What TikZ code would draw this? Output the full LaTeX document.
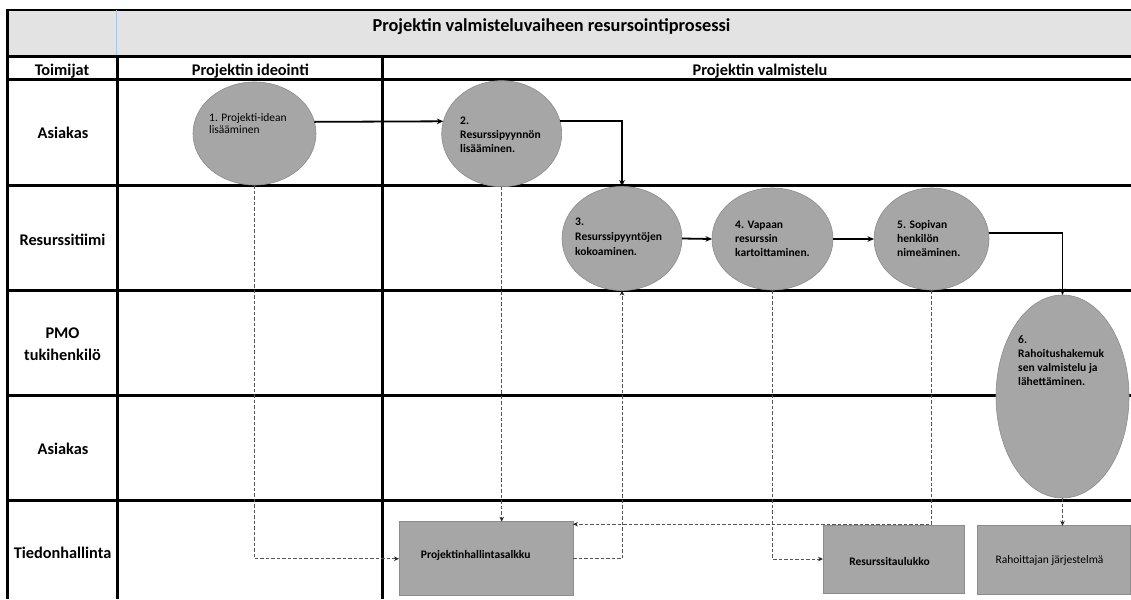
\documentclass[tikz,border=0pt]{standalone}
\usepackage{fontspec}
\setmainfont{Carlito}
\usetikzlibrary{arrows.meta,shapes.geometric,calc}

\definecolor{titlegrey}{HTML}{E3E3E3}
\definecolor{shapefill}{HTML}{A6A6A6}
\definecolor{shapeedge}{HTML}{8C8C8C}
\definecolor{dashgrey}{HTML}{555555}
\definecolor{cellblue}{HTML}{A9C4E8}

% left-aligned multi-line text whose baseline is that of its first line
\newcommand{\steplines}[1]{\begin{tabular}[t]{@{}l@{}}#1\end{tabular}}

\begin{document}
\begin{tikzpicture}[x=1pt,y=-1pt,
  gridline/.style={line width=3pt, black},
  stepnode/.style={ellipse, fill=shapefill, draw=shapeedge, line width=0.6pt,
    inner sep=0pt, outer sep=0pt},
  store/.style={rectangle, fill=shapefill, draw=shapeedge, line width=0.8pt,
    inner sep=0pt, outer sep=0pt},
  titletext/.style={font=\fontsize{18.3}{22}\selectfont\bfseries, inner sep=0pt, anchor=base},
  head/.style={font=\fontsize{16.3}{22}\selectfont\bfseries, inner sep=0pt, anchor=base},
  steptext/.style={font=\fontsize{11.5}{14}\selectfont\bfseries,
    anchor=base west, inner sep=0pt},
  steptextlight/.style={font=\fontsize{11.5}{12.5}\selectfont,
    anchor=base west, inner sep=0pt},
  storetext/.style={font=\fontsize{11.5}{14}\selectfont\bfseries, inner sep=0pt, anchor=base},
  storetextlight/.style={font=\fontsize{11.5}{14}\selectfont, inner sep=0pt, anchor=base},
  flow/.style={line width=1.8pt, -{Stealth[length=6.5pt,width=5.5pt]}},
  info/.style={dashgrey, line width=1pt, dash pattern=on 3.5pt off 2pt,
    -{Stealth[length=5pt,width=4.5pt,color=black!85]}}
]
\useasboundingbox (0,0) rectangle (1131,599);

% ---- table: title row, header row and swimlanes
\fill[titlegrey] (7,10) rectangle (1131,57);
\draw[line width=1.6pt] (7,10) -- (1131,10);
\draw[cellblue, line width=0.6pt] (116.7,10) -- (116.7,57);
\draw[gridline] (7,57) -- (1131,57);
\foreach \y in {80,185,290.5,395.5,500}
  \draw[gridline] (7,\y) -- (1131,\y);
\draw[gridline] (7,9.5) -- (7,599);
\foreach \x in {117,382}
  \draw[gridline] (\x,57) -- (\x,599);

\node[titletext] (title) at (551.5,32) {Projektin valmisteluvaiheen resursointiprosessi};
\node[head] (hToim) at (62,76) {Toimijat};
\node[head] (hIde) at (250.4,76) {Projektin ideointi};
\node[head] (hVal) at (760,76) {Projektin valmistelu};

\node[head] (lAsiakas1) at (63,138) {Asiakas};
\node[head] (lResurssi) at (62.5,245) {Resurssitiimi};
\node[head, align=center, anchor=north] (lPmo) at (62.5,327.5) {PMO\\tukihenkilö};
\node[head] (lAsiakas2) at (63,454) {Asiakas};
\node[head] (lTieto) at (62.5,558) {Tiedonhallinta};

% ---- process steps
\node[stepnode, minimum width=123pt, minimum height=103pt] (e1) at (254.5,133.5) {};
\node[stepnode, minimum width=120pt, minimum height=106pt] (e2) at (501.7,133.7) {};
\node[stepnode, minimum width=120pt, minimum height=104pt] (e3) at (622,238.5) {};
\node[stepnode, minimum width=121pt, minimum height=102pt] (e4) at (772.5,239) {};
\node[stepnode, minimum width=115pt, minimum height=102pt] (e5) at (931.5,239) {};
\node[stepnode, minimum width=133pt, minimum height=203pt] (e6) at (1062.5,396.5) {};

\node[steptextlight] (t1) at (209,121.2) {\steplines{1. Projekti-idean\\lisääminen}};
\node[steptext] (t2) at (460,124.7) {\steplines{2.\\Resurssipyynnön\\lisääminen.}};
\node[steptext, font=\fontsize{11.5}{15}\selectfont\bfseries] (t3) at (575,225.7) {\steplines{3.\\Resurssipyyntöjen\\kokoaminen.}};
\node[steptext] (t4) at (735,228.7) {\steplines{4. Vapaan\\resurssin\\kartoittaminen.}};
\node[steptext] (t5) at (897,228.7) {\steplines{5. Sopivan\\henkilön\\nimeäminen.}};
\node[steptext] (t6) at (1018,343) {\steplines{6.\\Rahoitushakemuk\\sen valmistelu ja\\lähettäminen.}};

% ---- information stores
\node[store, minimum width=174pt, minimum height=74pt] (b1) at (486,558.7) {};
\node[store, minimum width=141pt, minimum height=68pt] (b2) at (893.5,559) {};
\node[store, minimum width=153pt, minimum height=69pt] (b3) at (1053.5,560.3) {};

\node[storetext] (s1) at (475.7,558.5) {Projektinhallintasalkku};
\node[storetext] (s2) at (889.5,565) {Resurssitaulukko};
\node[storetextlight] (s3) at (1049.5,563.5) {Rahoittajan järjestelmä};

% ---- process flow
\draw[flow] (e1.11) -- (e2.168);
\draw[flow] (e2.12) -| (e3.north);
\draw[flow] (e3.east) -- (e4.west);
\draw[flow] (e4.east) -- (e5.west);
\draw[flow] (e5.6) -| (e6.north);

% ---- information flow
\draw[info] (e1.south) |- (b1.west);
\draw[info] (e2.south) -- (e2.south |- b1.north);
\draw[info] (b1.east) -| (e3.south);
\draw[info] (e5.south) |- ([yshift=-2.5pt]b1.north east);
\draw[info] (e4.south) |- (b2.west);
\draw[info] (e6.south) -- (e6.south |- b3.north);
\end{tikzpicture}
\end{document}
